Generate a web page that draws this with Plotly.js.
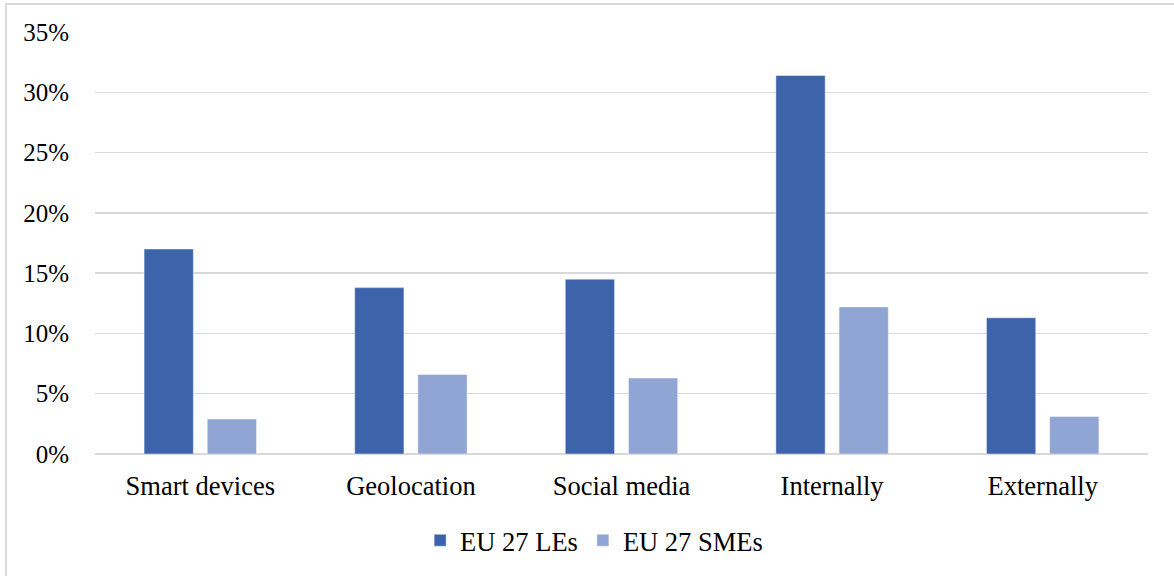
<!DOCTYPE html>
<html>
<head>
<meta charset="utf-8">
<script src="https://cdn.plot.ly/plotly-3.0.1.min.js"></script>
<style>
  html, body { margin: 0; padding: 0; background: #fff; }
  #wrap { position: relative; width: 1174px; height: 576px; }
  #frame { position: absolute; left: 5px; top: 3px; width: 1180px; height: 600px;
           border-left: 2px solid #d9d9d9; border-top: 2px solid #d9d9d9; pointer-events: none; }
  #chart { position: absolute; left: 0; top: 0; width: 1174px; height: 576px; }
</style>
</head>
<body>
<div id="wrap">
  <div id="chart"></div>
  <div id="frame"></div>
</div>
<script>
// Share of enterprises (%) by usage category
const categories = ["Smart devices", "Geolocation", "Social media", "Internally", "Externally"];
const largeEnterprises = [17.0, 13.8, 14.5, 31.4, 11.3];
const smallMediumEnterprises = [2.9, 6.6, 6.3, 12.2, 3.1];
const seriesNames = ["EU 27 LEs", "EU 27 SMEs"];
const yTicks = [0, 5, 10, 15, 20, 25, 30, 35];
const yTickLabels = ["0%", "5%", "10%", "15%", "20%", "25%", "30%", "35%"];

const fontFamily = '"Liberation Serif", "Times New Roman", serif';

const traces = [
  {
    type: "bar",
    name: seriesNames[0],
    x: categories,
    y: largeEnterprises,
    marker: { color: "#3d64ab", line: { color: "rgba(255,255,255,0.45)", width: 1 } },
    hoverinfo: "x+y+name"
  },
  {
    type: "bar",
    name: seriesNames[1],
    x: categories,
    y: smallMediumEnterprises,
    marker: { color: "#91a5d4", line: { color: "rgba(255,255,255,0.45)", width: 1 } },
    hoverinfo: "x+y+name"
  }
];

const layout = {
  width: 1174,
  height: 576,
  margin: { l: 95, r: 26, t: 32, b: 122 },
  paper_bgcolor: "#ffffff",
  plot_bgcolor: "#ffffff",
  font: { family: fontFamily, size: 25, color: "#000000" },
  barmode: "group",
  bargap: 0.40,
  bargroupgap: 0.22,
  showlegend: true,
  legend: {
    orientation: "h",
    x: 0.474,
    xanchor: "center",
    y: -0.205,
    yanchor: "middle",
    font: { family: fontFamily, size: 26.5, color: "#000000" },
    itemwidth: 30,
    traceorder: "normal"
  },
  xaxis: {
    type: "category",
    showgrid: false,
    showline: false,
    zeroline: false,
    ticks: "outside",
    ticklen: 8,
    tickcolor: "rgba(0,0,0,0)",
    tickfont: { family: fontFamily, size: 26.5, color: "#000000" },
    fixedrange: true
  },
  yaxis: {
    range: [0, 35],
    tickvals: yTicks,
    ticktext: yTickLabels,
    showgrid: true,
    gridcolor: "#d9d9d9",
    gridwidth: 1.5,
    zeroline: true,
    zerolinecolor: "#d9d9d9",
    zerolinewidth: 1.5,
    showline: false,
    ticks: "outside",
    ticklen: 20,
    tickcolor: "rgba(0,0,0,0)",
    tickfont: { family: fontFamily, size: 25, color: "#000000" },
    fixedrange: true
  }
};

Plotly.newPlot("chart", traces, layout, { displayModeBar: false, staticPlot: true });
</script>
</body>
</html>
